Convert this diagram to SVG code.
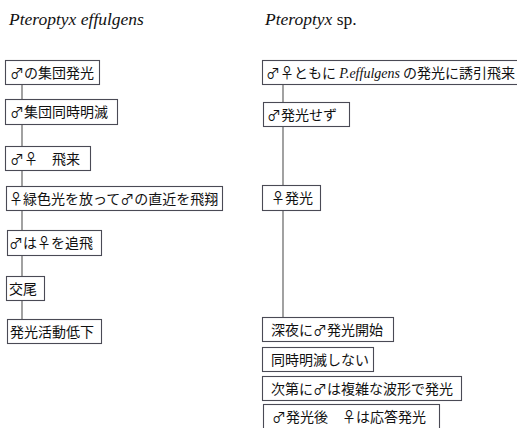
<svg xmlns="http://www.w3.org/2000/svg" width="517" height="428" viewBox="0 0 517 428">
<style>
.box{fill:#fff;stroke:#4a4a55;stroke-width:1.1}
.t{font-family:"Noto Sans CJK JP","Noto Sans",sans-serif;font-size:14px;fill:#111}
.ti{font-family:"Liberation Serif",serif;font-style:italic;font-size:17.5px;fill:#111}
.conn line{stroke:#555;stroke-width:1.1}
</style>
<rect width="517" height="428" fill="#fff"/>
<text class="ti" x="9" y="25">Pteroptyx effulgens</text>
<text class="ti" x="265" y="25">Pteroptyx <tspan font-style="normal">sp.</tspan></text>
<g class="conn">
<line x1="22" y1="85" x2="22" y2="99"/>
<line x1="22" y1="125" x2="22" y2="146"/>
<line x1="22" y1="171" x2="22" y2="186"/>
<line x1="22" y1="211" x2="22" y2="230"/>
<line x1="22" y1="256" x2="22" y2="276"/>
<line x1="22" y1="301" x2="22" y2="319"/>
<line x1="283" y1="85" x2="283" y2="102"/>
<line x1="283" y1="126" x2="283" y2="185"/>
<line x1="283" y1="211" x2="283" y2="317"/>
</g>
<g id="L1"><rect class="box" x="5.5" y="60.5" width="94" height="24"/><text class="t" x="10" y="78">♂の集団発光</text></g>
<g id="L2"><rect class="box" x="5.5" y="99.5" width="112" height="25"/><text class="t" x="10" y="117">♂集団同時明滅</text></g>
<g id="L3"><rect class="box" x="5.5" y="146.5" width="85" height="24"/><text class="t" x="10" y="164">♂♀　飛来</text></g>
<g id="L4"><rect class="box" x="6.5" y="186.5" width="216" height="24"/><text class="t" x="9" y="204">♀緑色光を放って♂の直近を飛翔</text></g>
<g id="L5"><rect class="box" x="7.5" y="230.5" width="94" height="25"/><text class="t" x="9" y="248">♂は♀を追飛</text></g>
<g id="L6"><rect class="box" x="6.5" y="276.5" width="38" height="24"/><text class="t" x="9" y="294">交尾</text></g>
<g id="L7"><rect class="box" x="7.5" y="319.5" width="94" height="24"/><text class="t" x="10" y="337">発光活動低下</text></g>
<g id="R1"><rect class="box" x="262.5" y="60.5" width="262" height="24"/><text class="t" x="266" y="78">♂♀ともに <tspan font-family="Liberation Serif,serif" font-style="italic" font-size="14">P.effulgens</tspan> の発光に誘引飛来</text></g>
<g id="R2"><rect class="box" x="263.5" y="102.5" width="86" height="24"/><text class="t" x="267" y="120">♂発光せず</text></g>
<g id="R3"><rect class="box" x="262.5" y="185.5" width="58" height="25"/><text class="t" x="271" y="203">♀発光</text></g>
<g id="R4"><rect class="box" x="262.5" y="317.5" width="131" height="24"/><text class="t" x="271" y="335">深夜に♂発光開始</text></g>
<g id="R5"><rect class="box" x="262.5" y="347.5" width="111" height="24"/><text class="t" x="271" y="365">同時明滅しない</text></g>
<g id="R6"><rect class="box" x="262.5" y="376.5" width="199" height="24"/><text class="t" x="271" y="394">次第に♂は複雑な波形で発光</text></g>
<g id="R7"><rect class="box" x="263.5" y="404.5" width="176" height="30"/><text class="t" x="272" y="422">♂発光後　♀は応答発光</text></g>
</svg>
